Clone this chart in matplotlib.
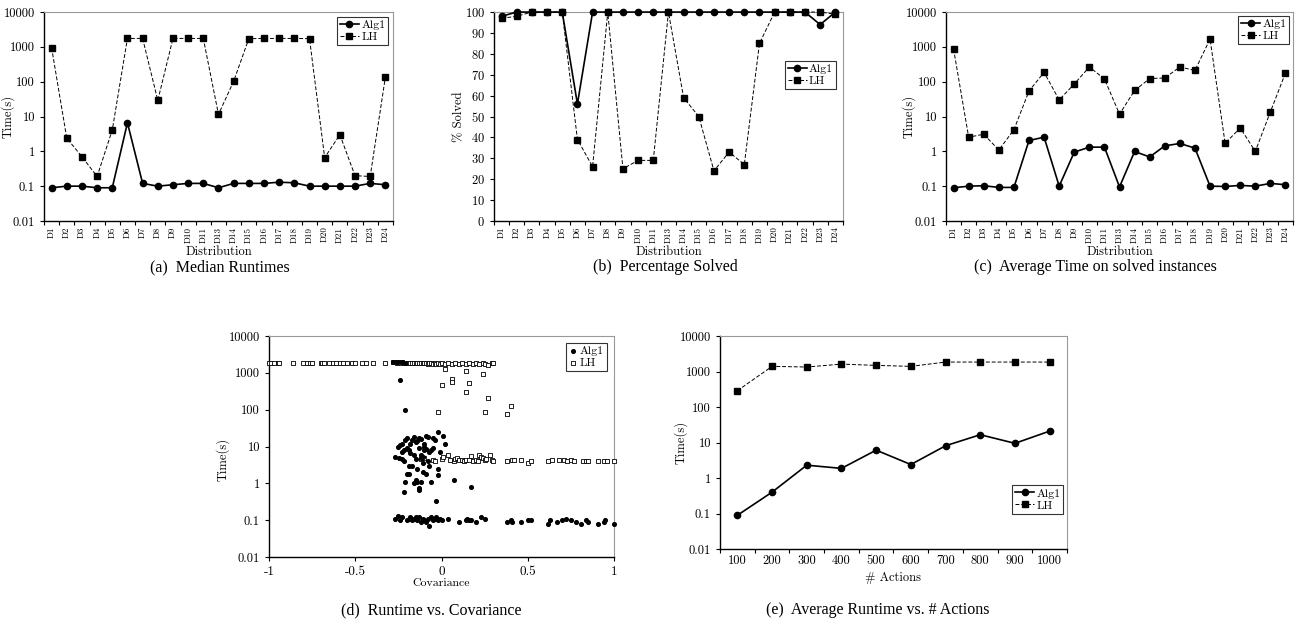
import numpy as np
import matplotlib
matplotlib.use("Agg")
import matplotlib.pyplot as plt
from matplotlib.ticker import FixedLocator, NullFormatter, FixedFormatter, NullLocator

plt.rcParams['font.family'] = ['cmr10', 'DejaVu Serif']
plt.rcParams['axes.formatter.use_mathtext'] = True
plt.rcParams['axes.unicode_minus'] = False

# ---- data -------------------------------------------------------------
dists = ['D1', 'D2', 'D3', 'D4', 'D5', 'D6', 'D7', 'D8', 'D9', 'D10', 'D11',
         'D13', 'D14', 'D15', 'D16', 'D17', 'D18', 'D19', 'D20', 'D21', 'D22',
         'D23', 'D24']

median_alg1 = [0.09, 0.1, 0.1, 0.09, 0.09, 6.6, 0.12, 0.1, 0.11, 0.12, 0.12,
               0.09, 0.12, 0.12, 0.12, 0.13, 0.125, 0.1, 0.1, 0.1, 0.1, 0.12, 0.11]
median_lh = [950, 2.4, 0.7, 0.19, 4.1, 1750, 1750, 29, 1750, 1750, 1750,
             11.5, 103, 1720, 1750, 1750, 1750, 1720, 0.66, 3.0, 0.2, 0.19, 134]

solved_alg1 = [98, 100, 100, 100, 100, 56, 100, 100, 100, 100, 100,
               100, 100, 100, 100, 100, 100, 100, 100, 100, 100, 94, 100]
solved_lh = [97, 98, 100, 100, 100, 39, 26, 100, 25, 29, 29,
             100, 59, 50, 24, 33, 27, 85, 100, 100, 100, 100, 99]

avg_alg1 = [0.09, 0.1, 0.103, 0.092, 0.092, 2.05, 2.55, 0.1, 0.95, 1.32, 1.32,
            0.095, 0.99, 0.69, 1.44, 1.68, 1.24, 0.1, 0.098, 0.105, 0.1, 0.12, 0.11]
avg_lh = [870, 2.55, 3.1, 1.09, 4.2, 54, 186, 30, 86, 265, 120,
          11.7, 56, 123, 128, 265, 210, 1680, 1.7, 4.7, 1.0, 13.6, 178]

actions = ['100', '200', '300', '400', '500', '600', '700', '800', '900', '1000']
act_alg1 = [0.089, 0.40, 2.3, 1.87, 6.1, 2.4, 8.1, 16.6, 9.5, 21]
act_lh = [288, 1400, 1340, 1620, 1490, 1400, 1850, 1850, 1850, 1850]

# covariance scatter
cov_lh_x = [-1.0, -0.99, -0.97, -0.95, -0.94, -0.86, -0.80, -0.78, -0.76, -0.75,
            -0.70, -0.69, -0.68, -0.65, -0.63, -0.61, -0.59, -0.57, -0.55, -0.52,
            -0.50, -0.46, -0.44, -0.40, -0.33, -0.28, -0.27, -0.26, -0.25, -0.24,
            -0.23, -0.22, -0.21, -0.20, -0.19, -0.18, -0.17, -0.16, -0.15, -0.14,
            -0.13, -0.12, -0.11, -0.10, -0.09, -0.08, -0.07, -0.06, -0.05, -0.04,
            -0.03, -0.02, -0.01, 0.0, 0.02, 0.04, 0.06, 0.08, 0.10, 0.12, 0.14,
            0.16, 0.18, 0.20, 0.22, 0.24, 0.25, 0.27, 0.29, 0.30,
            0.02, 0.0, 0.06, 0.06, 0.14, 0.14, 0.16, 0.24, 0.27, -0.02, 0.25, 0.38, 0.40,
            -0.12, -0.10, -0.05, -0.04, 0.0, 0.01, 0.04, 0.05, 0.07, 0.08, 0.09, 0.10,
            0.12, 0.13, 0.14, 0.16, 0.17, 0.18, 0.20, 0.21, 0.22, 0.23, 0.24, 0.25,
            0.26, 0.28, 0.29, 0.30, 0.38, 0.41, 0.42, 0.46, 0.50, 0.52, 0.62, 0.64,
            0.68, 0.71, 0.73, 0.75, 0.77, 0.82, 0.84, 0.85, 0.91, 0.94, 0.96, 1.0]
cov_lh_y = [1850, 1850, 1850, 1850, 1850, 1850, 1850, 1850, 1850, 1850,
            1850, 1900, 1850, 1850, 1850, 1850, 1850, 1850, 1850, 1850,
            1850, 1850, 1850, 1850, 1850, 2000, 1950, 1900, 2000, 1900,
            1950, 1850, 1900, 1800, 1900, 1850, 1800, 1900, 1850, 1800,
            1850, 1900, 1800, 1850, 1800, 1750, 1800, 1800, 1750, 1800,
            1750, 1800, 1750, 1800, 1750, 1800, 1750, 1800, 1750, 1800, 1700,
            1800, 1750, 1800, 1700, 1800, 1750, 1650, 1800, 1800,
            1250, 470, 680, 560, 1100, 300, 520, 930, 210, 88, 88, 76, 130,
            4.5, 5.0, 4.2, 4.0, 4.5, 5.2, 5.8, 4.2, 4.1, 4.5, 4.8, 4.2,
            4.4, 4.0, 4.2, 4.3, 5.5, 4.1, 4.3, 4.1, 6.0, 5.2, 4.8, 4.2,
            4.5, 5.8, 4.2, 4.1, 4.0, 4.2, 4.3, 4.2, 3.6, 4.0, 4.1, 4.3,
            4.2, 4.2, 4.0, 4.3, 4.1, 4.0, 4.0, 4.0, 4.0, 4.0, 4.0, 4.0]

cov_alg1_x = [-0.28, -0.26, -0.25, -0.23, -0.21, -0.24, -0.21,
              -0.27, -0.25, -0.24, -0.245, -0.23, -0.23, -0.22, -0.22, -0.22, -0.21,
              -0.20, -0.20, -0.19, -0.20, -0.19, -0.21, -0.19, -0.18, -0.18, -0.17,
              -0.16, -0.17, -0.16, -0.15, -0.15, -0.14, -0.14, -0.13, -0.13, -0.12,
              -0.12, -0.13, -0.13, -0.12, -0.11, -0.11, -0.10, -0.10, -0.09, -0.09,
              -0.09, -0.08, -0.08, -0.07, -0.07, -0.06, -0.05, -0.05, -0.04, -0.03,
              -0.02, -0.02, -0.02, -0.01, 0.01, 0.02, 0.07, 0.17, -0.14, -0.16,
              -0.11, -0.10, -0.06, -0.15, -0.23, -0.12,
              -0.27, -0.25, -0.24, -0.23, -0.20, -0.19, -0.18, -0.17, -0.16, -0.15,
              -0.14, -0.13, -0.12, -0.11, -0.10, -0.09, -0.08, -0.07, -0.06, -0.05,
              -0.04, -0.03, -0.02, -0.01, 0.0, 0.04, 0.10, 0.14, 0.15, 0.16, 0.17,
              0.20, 0.23, 0.25, 0.38, 0.40, 0.41, 0.46, 0.50, 0.52, 0.62, 0.63,
              0.67, 0.70, 0.72, 0.75, 0.78, 0.81, 0.84, 0.85, 0.91, 0.94, 0.95, 1.0]
cov_alg1_y = [1950, 2000, 1950, 2000, 1900, 650, 100,
              5.2, 10, 11, 5.0, 12, 7, 8, 4, 0.6, 15,
              17, 9, 8, 1.8, 1.75, 1.1, 3, 6.5, 12, 15,
              18, 3, 1.0, 1.2, 4.5, 14, 2.5, 17, 9, 6,
              5, 0.75, 0.65, 1.1, 2, 3.5, 12, 8, 19, 8.5,
              1.8, 18, 4, 3, 7, 1.1, 9, 17, 15, 0.33,
              25, 2.5, 1.7, 7, 19, 11.5, 1.2, 0.82, 1.1, 5.8,
              5.3, 9.5, 8.3, 13, 4.5, 16,
              0.11, 0.13, 0.10, 0.12, 0.10, 0.11, 0.12, 0.10, 0.11, 0.12,
              0.10, 0.12, 0.09, 0.11, 0.10, 0.09, 0.11, 0.07, 0.12, 0.10,
              0.11, 0.12, 0.10, 0.11, 0.10, 0.11, 0.09, 0.10, 0.11, 0.10, 0.10,
              0.09, 0.12, 0.11, 0.09, 0.10, 0.09, 0.09, 0.10, 0.10, 0.08, 0.10,
              0.09, 0.10, 0.11, 0.10, 0.09, 0.08, 0.10, 0.09, 0.08, 0.09, 0.10, 0.08]

log_ticks = [0.01, 0.1, 1, 10, 100, 1000, 10000]
log_labels = ['0.01', '0.1', '1', '10', '100', '1000', '10000']

fig = plt.figure(figsize=(13.02, 6.35), dpi=100)


def style_axes(ax):
    for s in ['top', 'right']:
        ax.spines[s].set_color('#999999')
        ax.spines[s].set_linewidth(0.8)
    for s in ['left', 'bottom']:
        ax.spines[s].set_color('black')
        ax.spines[s].set_linewidth(1.0)
    ax.tick_params(axis='both', which='major', direction='out', length=3,
                   width=0.8, labelsize=9)


def log_y(ax):
    ax.set_yscale('log')
    ax.set_ylim(0.01, 10000)
    ax.yaxis.set_major_locator(FixedLocator(log_ticks))
    ax.yaxis.set_major_formatter(FixedFormatter(log_labels))
    ax.yaxis.set_minor_locator(NullLocator())


def category_x(ax, labels, rotate=True, size=6.5):
    n = len(labels)
    ax.set_xlim(-0.5, n - 0.5)
    ax.xaxis.set_major_locator(FixedLocator(np.arange(n + 1) - 0.5))
    ax.xaxis.set_major_formatter(NullFormatter())
    ax.xaxis.set_minor_locator(FixedLocator(np.arange(n)))
    ax.xaxis.set_minor_formatter(FixedFormatter(labels))
    ax.tick_params(axis='x', which='minor', length=0, labelsize=size,
                   rotation=90 if rotate else 0, pad=4)


def two_lines(ax, y1, y2, legend_loc, anchor=None, pad=0.3):
    x = np.arange(len(y1))
    ax.plot(x, y1, '-', color='black', lw=1.2, marker='o', ms=4.5, label='Alg1',
            clip_on=False, zorder=4)
    ax.plot(x, y2, '--', color='black', lw=0.7, dashes=(4, 2), marker='s', ms=4.5,
            label='LH', clip_on=False, zorder=3)
    leg = ax.legend(loc=legend_loc, bbox_to_anchor=anchor, fontsize=8.5, frameon=True,
                    fancybox=False, edgecolor='black', handlelength=1.6,
                    borderpad=0.25, labelspacing=0.15, handletextpad=0.2,
                    borderaxespad=pad)
    leg.get_frame().set_linewidth(0.8)


# (a) Median runtimes
ax_a = fig.add_axes([0.0338, 0.652, 0.268, 0.329])
style_axes(ax_a)
log_y(ax_a)
category_x(ax_a, dists)
two_lines(ax_a, median_alg1, median_lh, 'upper right', pad=0.4)
ax_a.set_ylabel('Time(s)', fontsize=9)
ax_a.yaxis.set_label_coords(-0.083, 0.5)
ax_a.set_xlabel('Distribution', fontsize=9, labelpad=2)

# (b) Percentage solved
ax_b = fig.add_axes([0.3794, 0.652, 0.268, 0.329])
style_axes(ax_b)
ax_b.set_ylim(0, 100)
ax_b.set_yticks(range(0, 101, 10))
category_x(ax_b, dists)
two_lines(ax_b, solved_alg1, solved_lh, 'upper right', anchor=(1.0, 0.80), pad=0.6)
ax_b.set_ylabel('% Solved', fontsize=9)
ax_b.yaxis.set_label_coords(-0.083, 0.5)
ax_b.set_xlabel('Distribution', fontsize=9, labelpad=2)

# (c) Average time on solved instances
ax_c = fig.add_axes([0.7266, 0.652, 0.2665, 0.329])
style_axes(ax_c)
log_y(ax_c)
category_x(ax_c, dists)
two_lines(ax_c, avg_alg1, avg_lh, 'upper right', pad=0.3)
ax_c.set_ylabel('Time(s)', fontsize=9)
ax_c.yaxis.set_label_coords(-0.089, 0.5)
ax_c.set_xlabel('Distribution', fontsize=9, labelpad=2)

# (d) Runtime vs covariance
ax_d = fig.add_axes([0.2066, 0.1228, 0.265, 0.348])
style_axes(ax_d)
log_y(ax_d)
ax_d.scatter(cov_alg1_x, cov_alg1_y, s=7, color='black', marker='o', label='Alg1',
             zorder=4, clip_on=False)
ax_d.scatter(cov_lh_x, cov_lh_y, s=9, facecolors='white', edgecolors='black',
             linewidths=0.6, marker='s', label='LH', zorder=3, clip_on=False)
ax_d.set_xlim(-1, 1)
ax_d.set_xticks([-1, -0.5, 0, 0.5, 1])
ax_d.set_xticklabels(['-1', '-0.5', '0', '0.5', '1'])
ax_d.tick_params(axis='x', labelsize=9.5)
ax_d.set_ylabel('Time(s)', fontsize=9)
ax_d.yaxis.set_label_coords(-0.113, 0.44)
ax_d.set_xlabel('Covariance', fontsize=8.5, labelpad=0)
leg = ax_d.legend(loc='upper right', fontsize=8.5, frameon=True, fancybox=False,
                  edgecolor='black', handlelength=0.6, borderpad=0.25,
                  labelspacing=0.15, handletextpad=0.3, borderaxespad=0.6)
leg.get_frame().set_linewidth(0.8)

# (e) Average runtime vs # actions
ax_e = fig.add_axes([0.553, 0.1354, 0.2665, 0.3354])
style_axes(ax_e)
log_y(ax_e)
category_x(ax_e, actions, rotate=False, size=9)
two_lines(ax_e, act_alg1, act_lh, 'lower right', anchor=(1.0, 0.15), pad=0.3)
ax_e.set_ylabel('Time(s)', fontsize=9)
ax_e.yaxis.set_label_coords(-0.092, 0.5)
ax_e.set_xlabel('# Actions', fontsize=9, labelpad=4)

# captions
cap = dict(fontsize=11.5, family='Liberation Serif', ha='center', va='center')
fig.text(220 / 1302, 1 - 267 / 635, '(a)  Median Runtimes', **cap)
fig.text(665 / 1302, 1 - 267 / 635, '(b)  Percentage Solved', **cap)
fig.text(1095 / 1302, 1 - 267 / 635, '(c)  Average Time on solved instances', **cap)
fig.text(431 / 1302, 1 - 610 / 635, '(d)  Runtime vs. Covariance', **cap)
fig.text(878 / 1302, 1 - 610 / 635, '(e)  Average Runtime vs. # Actions', **cap)

fig.savefig('out.png', dpi=100)
